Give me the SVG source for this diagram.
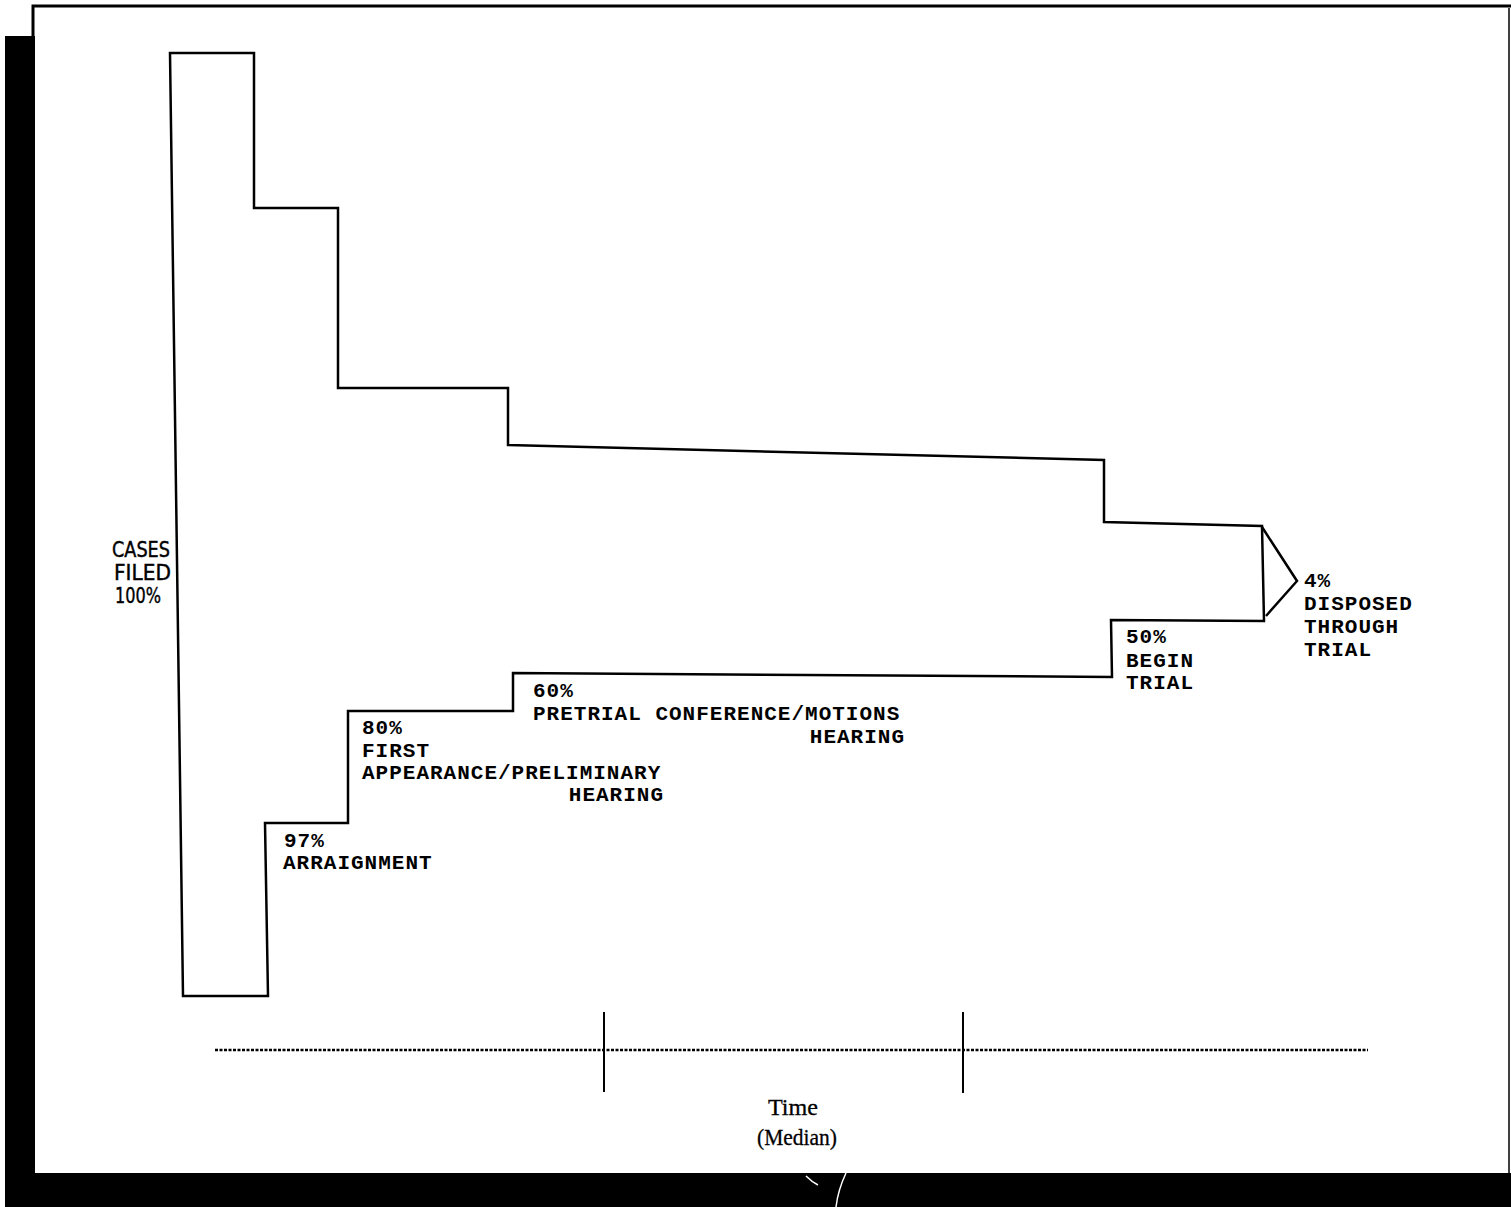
<svg xmlns="http://www.w3.org/2000/svg" width="1511" height="1207" viewBox="0 0 1511 1207">
<style>
.ln{fill:none;stroke:#000;stroke-width:2.5;stroke-linejoin:miter}
.tw{font-family:"Liberation Mono","DejaVu Sans Mono",monospace;font-size:21px;letter-spacing:1px;fill:#000;font-weight:bold}
.cf{font-family:"DejaVu Sans Condensed","Liberation Sans",sans-serif;font-size:22px;fill:#000;stroke:#000;stroke-width:0.4}
.sr{font-family:"Liberation Serif",serif;font-size:24px;fill:#000;stroke:#000;stroke-width:0.3}
</style>
<rect x="0" y="0" width="1511" height="1207" fill="#fff"/>
<g id="frame">
<rect x="5" y="36" width="30" height="1171" fill="#000"/>
<rect x="5" y="1173" width="1506" height="34" fill="#000"/>
<path d="M33 36 V6 H1511" fill="none" stroke="#000" stroke-width="3"/>
<line x1="1509" y1="8" x2="1509" y2="1173" stroke="#000" stroke-width="1.5"/>
<path d="M806 1176 Q812 1182 818 1185 M846 1173 Q838 1190 836 1207" fill="none" stroke="#fff" stroke-width="1.5"/>
</g>
<g id="connectors">
<path class="ln" d="M170 53 H254 V208 H338 V388 H508 V445 L1104 460 V522 L1262 526 L1264 621 L1111 620 L1112 677 L513 673 V711 H348 V823 H265 L268 996 H183 L170 53 Z"/>
<path class="ln" d="M1262 527 L1297 581 L1266 616"/>
</g>
<g id="axis">
<line x1="215" y1="1050" x2="1368" y2="1050" stroke="#000" stroke-width="2.5" stroke-dasharray="3,1.5"/>
<line x1="604" y1="1012" x2="604" y2="1092" stroke="#000" stroke-width="2"/>
<line x1="963" y1="1012" x2="963" y2="1093" stroke="#000" stroke-width="2"/>
<text class="sr" x="768" y="1115" textLength="50" lengthAdjust="spacingAndGlyphs">Time</text>
<text class="sr" x="757" y="1145" textLength="80" lengthAdjust="spacingAndGlyphs">(Median)</text>
</g>
<g id="cases-filed">
<text class="cf" x="112" y="557" textLength="58" lengthAdjust="spacingAndGlyphs">CASES</text>
<text class="cf" x="114" y="580" textLength="57" lengthAdjust="spacingAndGlyphs">FILED</text>
<text class="cf" x="115" y="603" textLength="46" lengthAdjust="spacingAndGlyphs">100%</text>
</g>
<g id="arraignment">
<text class="tw" x="284" y="847">97%</text>
<text class="tw" x="283" y="869">ARRAIGNMENT</text>
</g>
<g id="first-appearance">
<text class="tw" x="362" y="734">80%</text>
<text class="tw" x="362" y="757">FIRST</text>
<text class="tw" x="362" y="779">APPEARANCE/PRELIMINARY</text>
<text class="tw" x="664" y="801" text-anchor="end">HEARING</text>
</g>
<g id="pretrial">
<text class="tw" x="533" y="697">60%</text>
<text class="tw" x="533" y="720">PRETRIAL CONFERENCE/MOTIONS</text>
<text class="tw" x="905" y="743" text-anchor="end">HEARING</text>
</g>
<g id="begin-trial">
<text class="tw" x="1126" y="643">50%</text>
<text class="tw" x="1126" y="667">BEGIN</text>
<text class="tw" x="1126" y="689">TRIAL</text>
</g>
<g id="disposed-trial">
<text class="tw" x="1304" y="587">4%</text>
<text class="tw" x="1304" y="610">DISPOSED</text>
<text class="tw" x="1304" y="633">THROUGH</text>
<text class="tw" x="1304" y="656">TRIAL</text>
</g>
</svg>
